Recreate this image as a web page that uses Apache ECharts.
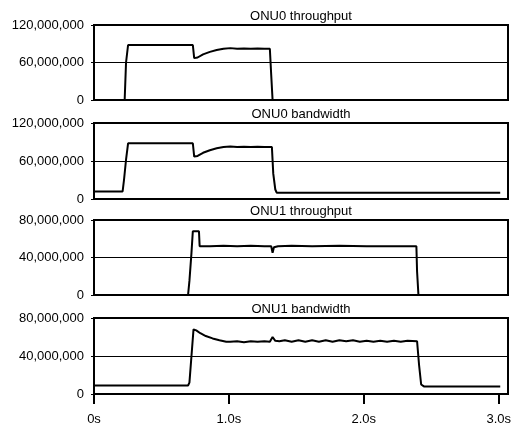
<!DOCTYPE html>
<html>
<head>
<meta charset="utf-8">
<script src="https://cdn.jsdelivr.net/npm/echarts@6/dist/echarts.min.js"></script>
<style>
html,body{margin:0;padding:0;background:#fff;}
#chart{width:514px;height:424px;}
</style>
</head>
<body>
<div id="chart"></div>
<script>
// ---- Data (values in millions of bit/s, time in seconds) ----
const panelTitles = ['ONU0 throughput', 'ONU0 bandwidth', 'ONU1 throughput', 'ONU1 bandwidth'];
const panelMax = [120, 120, 80, 80];
const panelInterval = [60, 60, 40, 40];
const xTickLabels = ['0s', '1.0s', '2.0s', '3.0s'];

const onu0ThroughputT = [0, 0.225, 0.235, 0.25, 0.725, 0.735, 0.76, 0.80, 0.85, 0.90, 0.95, 1.00, 1.05, 1.10, 1.15, 1.20, 1.25, 1.29, 1.30, 1.31, 2.98];
const onu0ThroughputV = [0, 0, 60, 88, 88, 67, 68, 73, 77, 80, 82, 83, 82, 82.5, 82, 82.5, 82, 82, 40, 0, 0];

const onu0BandwidthT = [0, 0.21, 0.22, 0.235, 0.25, 0.725, 0.735, 0.76, 0.80, 0.85, 0.90, 0.95, 1.00, 1.05, 1.10, 1.15, 1.20, 1.25, 1.305, 1.315, 1.33, 1.34, 2.98];
const onu0BandwidthV = [12, 12, 30, 62, 88, 88, 67, 68, 73, 77, 80, 82, 83, 82, 82.5, 82, 82.5, 82, 82, 40, 15, 10, 10];

const onu1ThroughputT = [0, 0.69, 0.70, 0.715, 0.725, 0.77, 0.775, 0.85, 0.95, 1.05, 1.15, 1.25, 1.30, 1.31, 1.32, 1.35, 1.45, 1.60, 1.80, 2.00, 2.20, 2.365, 2.37, 2.38, 2.98];
const onu1ThroughputV = [0, 0, 15, 45, 68, 68, 52, 52, 52.5, 52, 52.5, 52, 52, 45, 51, 52, 52.5, 52, 52.5, 52, 52, 52, 25, 0, 0];

const onu1BandwidthT = [0, 0.69, 0.70, 0.715, 0.73, 0.75, 0.78, 0.82, 0.87, 0.92, 0.97, 1.00, 1.05, 1.10, 1.15, 1.20, 1.25, 1.29, 1.31, 1.33, 1.36, 1.40, 1.45, 1.50, 1.55, 1.60, 1.65, 1.70, 1.75, 1.80, 1.85, 1.90, 1.95, 2.00, 2.05, 2.10, 2.15, 2.20, 2.25, 2.30, 2.37, 2.385, 2.40, 2.42, 2.98];
const onu1BandwidthV = [9, 9, 12, 40, 68, 67, 64, 61, 58.5, 56.5, 55, 55, 55.5, 54.5, 55.5, 55, 55.5, 55, 60, 56, 55.5, 56.5, 55, 56.5, 55, 56.5, 55, 56.5, 55, 56.5, 55.5, 56.5, 55, 56, 55, 56, 55, 56, 55, 56, 55.5, 30, 10, 8, 8];

const seriesT = [onu0ThroughputT, onu0BandwidthT, onu1ThroughputT, onu1BandwidthT];
const seriesV = [onu0ThroughputV, onu0BandwidthV, onu1ThroughputV, onu1BandwidthV];

// ---- Layout ----
const panelTop = [25, 123, 220, 318];
const panelHeight = [75, 76, 75, 76];
const titleTop = [10, 108, 205, 303];
const FONT = 'Liberation Sans';

const grids = [], xAxes = [], yAxes = [], series = [], titles = [];
for (let i = 0; i < 4; i++) {
  grids.push({left: 94, right: 6, top: panelTop[i], height: panelHeight[i], show: true,
    borderColor: '#000', borderWidth: 2, backgroundColor: 'transparent'});
  xAxes.push({type: 'value', gridIndex: i, min: 0, max: 3.037, show: false});
  yAxes.push({type: 'value', gridIndex: i, min: 0, max: panelMax[i], interval: panelInterval[i],
    axisLine: {show: false},
    axisTick: {show: true, length: 3, lineStyle: {color: '#000', width: 1}},
    splitLine: {show: true, lineStyle: {color: '#000', width: 1}},
    axisLabel: {color: '#000', fontFamily: FONT, fontSize: 13, margin: 10,
      formatter: v => (v * 1e6).toLocaleString('en-US')}});
  series.push({type: 'line', xAxisIndex: i, yAxisIndex: i, showSymbol: false, symbol: 'none',
    lineStyle: {color: '#000', width: 2}, silent: true,
    data: seriesT[i].map((t, k) => [t, seriesV[i][k]])});
  titles.push({text: panelTitles[i], left: 301, top: titleTop[i], textAlign: 'center', padding: 0,
    textStyle: {fontFamily: FONT, fontSize: 13, fontWeight: 'normal', color: '#000'}});
}
// bottom time axis
grids.push({left: 94, right: 11, top: 394, height: 0});
xAxes.push({type: 'value', gridIndex: 4, min: 0, max: 3, interval: 1,
  axisLine: {show: false},
  axisTick: {show: true, length: 10, lineStyle: {color: '#000', width: 2}},
  splitLine: {show: false},
  axisLabel: {color: '#000', fontFamily: FONT, fontSize: 13, margin: 19,
    formatter: v => xTickLabels[Math.round(v)]}});
yAxes.push({type: 'value', gridIndex: 4, show: false});

const chart = echarts.init(document.getElementById('chart'), null, {renderer: 'canvas'});
chart.setOption({
  animation: false,
  backgroundColor: '#fff',
  title: titles,
  grid: grids,
  xAxis: xAxes,
  yAxis: yAxes,
  series: series
});
</script>
</body>
</html>
